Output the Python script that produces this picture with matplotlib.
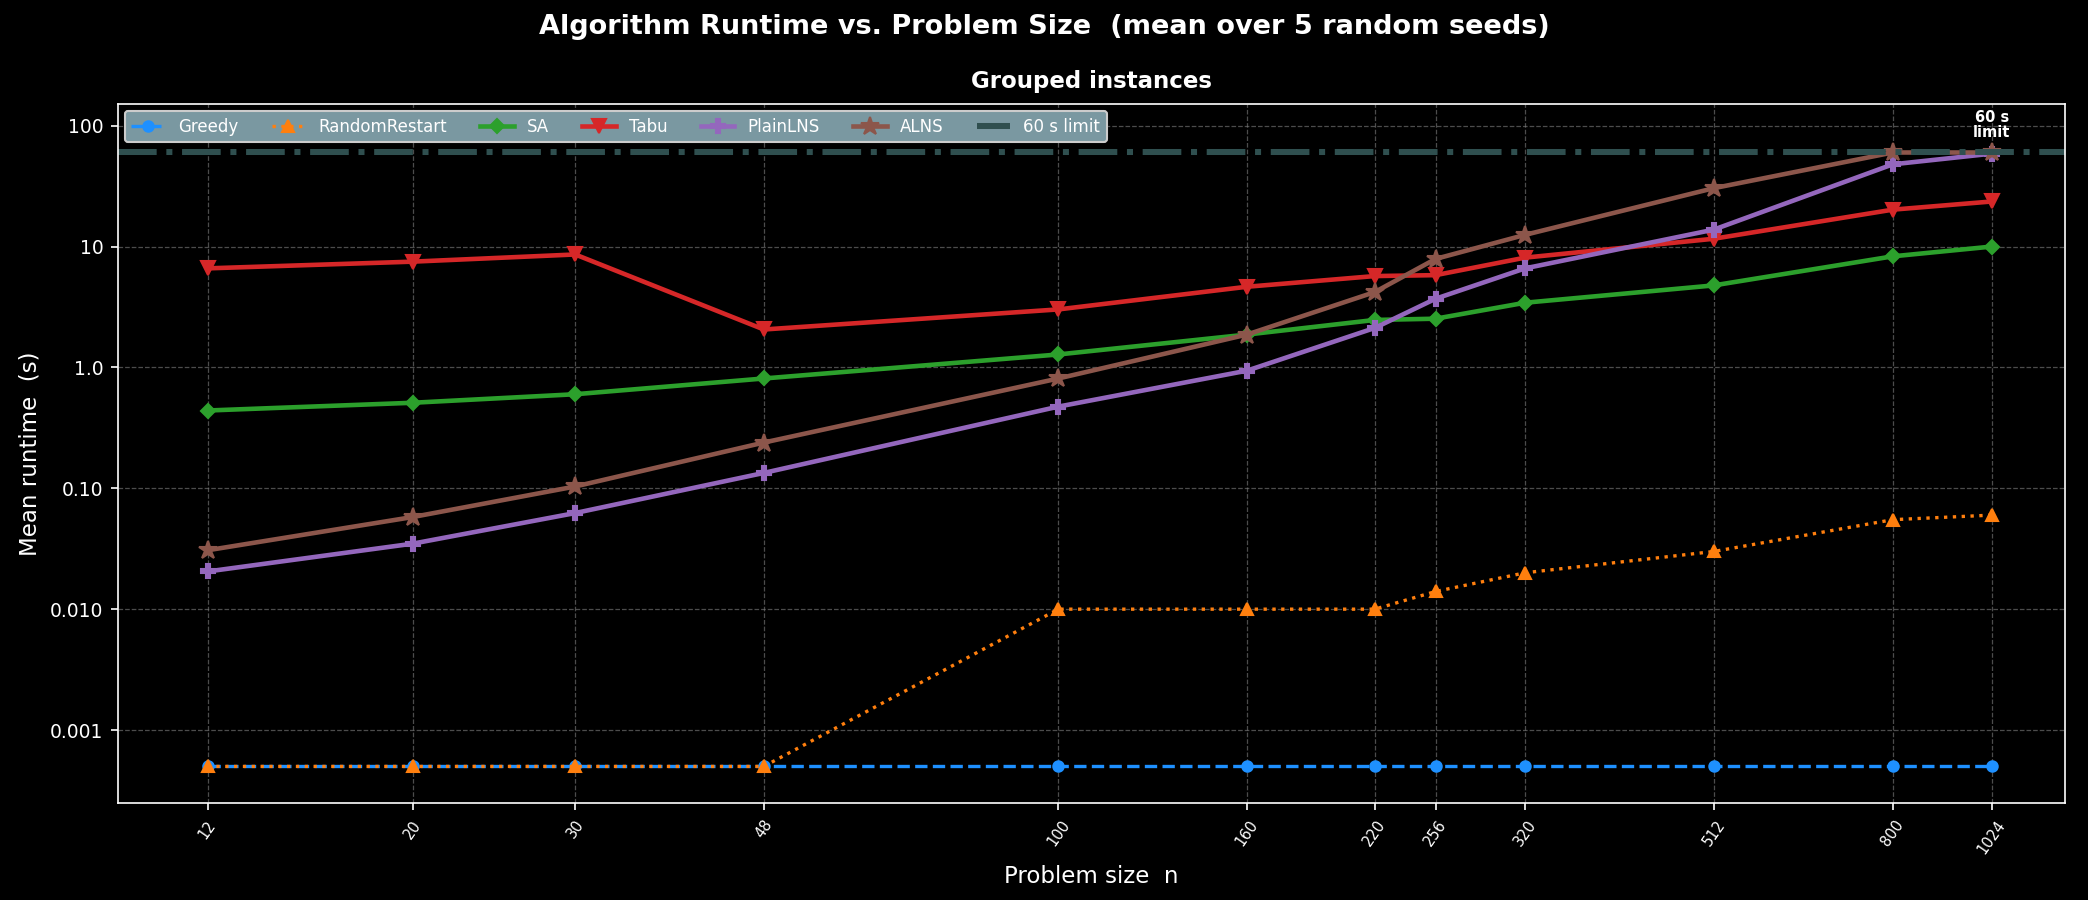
import numpy as np
import matplotlib.pyplot as plt
from matplotlib.ticker import FixedLocator, FixedFormatter, NullLocator

plt.style.use('dark_background')

# problem sizes
sizes = [12, 20, 30, 48, 100, 160, 220, 256, 320, 512, 800, 1024]

# mean runtime (s) per algorithm
greedy = [0.0005] * 12
random_restart = [0.0005, 0.0005, 0.0005, 0.0005, 0.01, 0.01, 0.01, 0.014, 0.02, 0.03, 0.055, 0.06]
sa = [0.44, 0.51, 0.60, 0.81, 1.28, 1.87, 2.47, 2.53, 3.43, 4.77, 8.3, 10.0]
tabu = [6.6, 7.5, 8.6, 2.06, 3.02, 4.65, 5.7, 5.8, 8.1, 11.6, 20.2, 23.6]
plain_lns = [0.0205, 0.0348, 0.0624, 0.134, 0.474, 0.94, 2.12, 3.7, 6.6, 13.8, 47.9, 58.7]
alns = [0.0307, 0.0578, 0.1035, 0.239, 0.81, 1.87, 4.2, 7.9, 12.5, 30.4, 60.0, 60.0]

time_limit = 60

yticks = [0.001, 0.01, 0.1, 1, 10, 100]
ytick_labels = ['0.001', '0.010', '0.10', '1.0', '10', '100']

fig = plt.figure(figsize=(13.92, 6), dpi=150)
ax = fig.add_axes([0.0565, 0.108, 0.9325, 0.776])

ax.plot(sizes, greedy, '--o', color='#1E90FF', lw=1.6, ms=5, label='Greedy')
ax.plot(sizes, random_restart, ':^', color='#ff7f0e', lw=1.6, ms=6, label='RandomRestart')
ax.plot(sizes, sa, '-D', color='#2ca02c', lw=2.2, ms=5, label='SA')
ax.plot(sizes, tabu, '-v', color='#d62728', lw=2.2, ms=7, label='Tabu')
ax.plot(sizes, plain_lns, '-P', color='#9467bd', lw=2.2, ms=7, label='PlainLNS')
ax.plot(sizes, alns, '-*', color='#8c564b', lw=2.2, ms=9, label='ALNS')
ax.axhline(time_limit, color='#2F4F4F', lw=2.9, ls='-.', label='60 s limit')
ax.text(sizes[-1], time_limit * 1.28, '60 s\nlimit', color='white', fontsize=7,
        fontweight='bold', ha='center', va='bottom', linespacing=1.0)

ax.set_xscale('log')
ax.set_yscale('log')
ax.set_xlim(9.6, 1228.8)
ax.set_ylim(2.5e-4, 150)

ax.xaxis.set_major_locator(FixedLocator(sizes))
ax.xaxis.set_major_formatter(FixedFormatter([str(s) for s in sizes]))
ax.xaxis.set_minor_locator(NullLocator())
ax.yaxis.set_major_locator(FixedLocator(yticks))
ax.yaxis.set_major_formatter(FixedFormatter(ytick_labels))
ax.yaxis.set_minor_locator(NullLocator())
plt.setp(ax.get_xticklabels(), rotation=55, fontsize=7)
ax.tick_params(axis='y', labelsize=9)

ax.grid(True, ls='--', lw=0.6, color='gray', alpha=0.6)

ax.set_xlabel('Problem size  n', fontsize=11)
ax.set_ylabel('Mean runtime  (s)', fontsize=11)
ax.set_title('Grouped instances', fontsize=11, fontweight='bold', pad=8)
fig.suptitle('Algorithm Runtime vs. Problem Size  (mean over 5 random seeds)',
             fontsize=13, fontweight='bold', y=0.985)

leg = ax.legend(loc='upper left', ncol=7, fontsize=8, facecolor='#7a98a1',
                framealpha=1.0, borderaxespad=0.4, columnspacing=2.0)

fig.savefig('out.png', dpi=150)
